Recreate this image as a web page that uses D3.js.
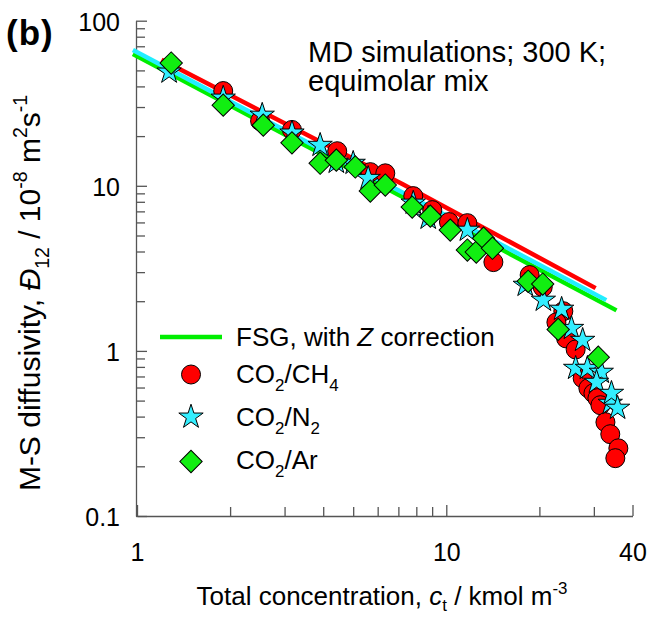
<!doctype html>
<html>
<head>
<meta charset="utf-8">
<style>
  body { margin: 0; background: #fff; }
  svg { font-family: "Liberation Sans", Arial, sans-serif; }
</style>
</head>
<body>
<svg width="650" height="617"></svg>
<script src="https://cdn.jsdelivr.net/npm/d3@7"></script>
<script>
  // MD data, [c_t (kmol/m3), D12 (1e-8 m2/s)]
  const ch4 = [[1.90,37.5],[2.50,24.7],[3.17,21.8],[4.44,16.2],[5.68,12.1],[6.35,11.9],[7.82,8.66],
    [9.01,7.12],[10.2,6.03],[11.7,5.94],[14.2,3.45],[18.6,2.88],[20.5,2.43],[23.9,1.74],[22.7,1.49],
    [24.4,1.19],[26.2,1.02],[27.6,0.683],[28.8,0.594],[29.9,0.554],[30.8,0.517],[31.5,0.469],
    [32.7,0.370],[33.9,0.313],[36.0,0.257],[35.2,0.224]];
  const n2 = [[1.27,48.9],[1.90,34.0],[2.54,26.8],[3.17,20.9],[3.91,17.6],[4.41,13.9],[5.00,13.7],
    [5.59,11.1],[7.82,7.86],[8.74,6.37],[11.7,5.39],[18.0,2.50],[20.6,2.03],[23.6,1.79],[25.4,1.37],
    [27.6,1.16],[26.2,0.785],[28.6,0.785],[31.7,0.743],[30.6,0.646],[33.9,0.482],[34.2,0.554],[35.8,0.45]];
  const ar = [[1.29,55.4],[1.90,30.8],[2.56,23.3],[3.17,18.2],[3.91,13.7],[4.41,14.3],[5.08,13.0],
    [5.68,9.29],[6.35,10.1],[7.76,7.43],[8.88,6.55],[10.3,5.39],[11.7,4.08],[12.5,3.97],[13.2,4.82],
    [14.1,4.19],[18.4,2.64],[20.5,2.54],[23.0,1.35],[31.0,0.916]];

  // FSG model lines
  const fsgCH4 = [[1.2,58],[7.26,10.2],[30.4,2.40]];
  const fsgN2 = [[0.97,66.4],[32.9,2.03]];
  const fsgAr = [[0.97,62.9],[35.5,1.76]];

  const xMajor = [1, 10, 40];
  const xMinor = [2,3,4,5,6,7,8,9,20,30];
  const yMajor = [0.1, 1, 10, 100];
  const yMinor = [0.2,0.3,0.4,0.5,0.6,0.7,0.8,0.9,2,3,4,5,6,7,8,9,20,30,40,50,60,70,80,90];

  const svg = d3.select("svg");
  const x = d3.scaleLog().domain([1, 40]).range([137, 632.5]);
  const y = d3.scaleLog().domain([0.1, 100]).range([516, 20.7]);

  const axisCol = "#555";

  // y axis
  const gy = svg.append("g").attr("transform", "translate(136,0)")
    .call(d3.axisLeft(y).tickValues(yMajor.concat(yMinor)).tickSize(-9).tickSizeOuter(0).tickPadding(16)
      .tickFormat(d => yMajor.includes(d) ? String(d) : ""));
  gy.selectAll(".tick line").filter(d => yMajor.includes(d)).attr("x2", 11);
  gy.selectAll(".tick text").attr("font-size", 25).attr("font-family", null).attr("dy", "0.38em").attr("fill", "#000");

  // x axis
  const gx = svg.append("g").attr("transform", "translate(0,516)")
    .call(d3.axisBottom(x).tickValues(xMajor.concat(xMinor)).tickSize(-9).tickSizeOuter(0).tickPadding(27)
      .tickFormat(d => xMajor.includes(d) ? String(d) : ""));
  gx.selectAll(".tick line").filter(d => xMajor.includes(d)).attr("y2", -11);
  gx.selectAll(".tick text").attr("font-size", 25).attr("font-family", null).attr("fill", "#000");

  svg.selectAll(".domain, .tick line").attr("stroke", axisCol).attr("stroke-width", 1.3);

  // model lines
  const line = d3.line().x(d => x(d[0])).y(d => y(d[1]));
  [[fsgAr, "#00ee00"], [fsgN2, "#22eeff"], [fsgCH4, "#ff0000"]].forEach(([data, col]) => {
    svg.append("path").attr("d", line(data)).attr("fill", "none")
      .attr("stroke", col).attr("stroke-width", 4.5);
  });

  // markers
  const circleSym = d3.symbol().type(d3.symbolCircle).size(Math.PI * 9.5 * 9.5);
  const starSym = d3.symbol().type(d3.symbolStar).size(12.8 * 12.8 / 0.8908130915292852);
  const diamSym = d3.symbol().type(d3.symbolSquare).size(15.8 * 15.8);

  function markers(data, sym, fill, rot) {
    svg.append("g").selectAll("path").data(data).join("path")
      .attr("d", sym)
      .attr("transform", d => `translate(${x(d[0])},${y(d[1])}) rotate(${rot})`)
      .attr("fill", fill).attr("stroke", "#000").attr("stroke-width", 1);
  }
  markers(ch4, circleSym, "#ff0000", 0);
  markers(n2, starSym, "#33eeff", 0);
  markers(ar, diamSym, "#11ee11", 45);

  // rich text helper
  function rich(el, parts, size, subShift = 0.3) {
    let shift = 0;
    parts.forEach(([t, kind]) => {
      const ts = el.append("tspan").text(t);
      let target = 0;
      if (kind === "sub") { ts.attr("font-size", size * 0.65); target = size * subShift; }
      else if (kind === "sup") { ts.attr("font-size", size * 0.65); target = -size * 0.42; }
      else ts.attr("font-size", size);
      if (kind === "it") ts.attr("font-style", "italic");
      if (target !== shift) { ts.attr("dy", target - shift); shift = target; }
    });
  }

  // legend
  const leg = svg.append("g");
  leg.append("line").attr("x1", 160).attr("x2", 222).attr("y1", 337).attr("y2", 337)
    .attr("stroke", "#00ee00").attr("stroke-width", 4.5);
  rich(leg.append("text").attr("x", 236).attr("y", 346),
    [["FSG, with ", "n"], ["Z", "it"], [" correction", "n"]], 26);
  leg.append("path").attr("d", circleSym).attr("transform", "translate(191,374.5)")
    .attr("fill", "#ff0000").attr("stroke", "#000");
  rich(leg.append("text").attr("x", 236).attr("y", 383),
    [["CO", "n"], ["2", "sub"], ["/CH", "n"], ["4", "sub"]], 26);
  leg.append("path").attr("d", starSym).attr("transform", "translate(191,417)")
    .attr("fill", "#33eeff").attr("stroke", "#000");
  rich(leg.append("text").attr("x", 236).attr("y", 426),
    [["CO", "n"], ["2", "sub"], ["/N", "n"], ["2", "sub"]], 26);
  leg.append("path").attr("d", diamSym).attr("transform", "translate(191,461.5) rotate(45)")
    .attr("fill", "#11ee11").attr("stroke", "#000");
  rich(leg.append("text").attr("x", 236).attr("y", 469),
    [["CO", "n"], ["2", "sub"], ["/Ar", "n"]], 26);

  // annotations
  svg.append("text").attr("x", 6).attr("y", 45).attr("font-size", 35).attr("font-weight", "bold")
    .attr("letter-spacing", 1).text("(b)");
  svg.append("text").attr("x", 308).attr("y", 62).attr("font-size", 29).text("MD simulations; 300 K;");
  svg.append("text").attr("x", 308).attr("y", 91).attr("font-size", 29).text("equimolar mix");

  // axis titles
  rich(svg.append("text").attr("x", 382).attr("y", 605).attr("text-anchor", "middle"),
    [["Total concentration, ", "n"], ["c", "it"], ["t", "sub"], [" / kmol m", "n"], ["-3", "sup"]], 26, 0.22);
  rich(svg.append("text").attr("transform", "translate(40,293) rotate(-90)").attr("text-anchor", "middle"),
    [["M-S diffusivity, ", "n"], ["Đ", "it"], ["12", "sub"], [" / 10", "n"], ["-8", "sup"],
     [" m", "n"], ["2", "sup"], ["s", "n"], ["-1", "sup"]], 30);
</script>
</body>
</html>
